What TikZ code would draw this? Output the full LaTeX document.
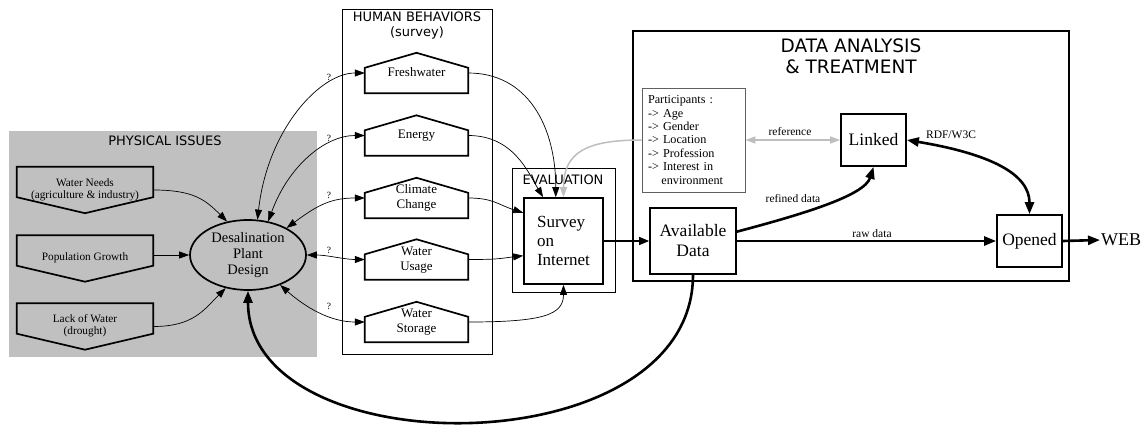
\documentclass[tikz,border=0pt]{standalone}
\usepackage{fontspec}
\setmainfont{Liberation Serif}
\newfontfamily\sansT{DejaVu Sans}
\usetikzlibrary{arrows.meta,shapes.geometric,calc}
\definecolor{clgray}{HTML}{C0C0C0}
\definecolor{egray}{HTML}{BEBEBE}
\definecolor{pgray}{HTML}{606060}
\newcommand\mytb[2]{\raisebox{#1}{\begin{tabular}{@{}c@{}}#2\end{tabular}}}
\begin{document}
\begin{tikzpicture}[x=1pt,y=-1pt,
  box/.style={draw, line width=1.7pt, rectangle, inner sep=0pt},
  shp/.style={inner sep=0pt},
  shpline/.style={line width=1.7pt, line join=miter},
  cl/.style={draw, line width=0.8pt},
  ttl/.style={font=\sansT\fontsize{13}{15}\selectfont, align=center, inner sep=0pt},
  phys/.style={shp, minimum width=136, minimum height=46, font=\fontsize{11.3}{12}\selectfont},
  hum/.style={shp, minimum width=103, minimum height=40, font=\fontsize{13}{15}\selectfont},
  elbl/.style={font=\fontsize{11.5}{13}\selectfont, inner sep=0pt},
  qlbl/.style={font=\fontsize{9.5}{11}\selectfont, inner sep=0pt},
  ethin/.style={line width=0.7pt, -{Triangle[length=10pt,width=7pt]}},
  ebi/.style={line width=0.7pt, {Triangle[length=10pt,width=7pt]}-{Triangle[length=10pt,width=7pt]}},
  emid/.style={line width=1.3pt, -{Triangle[length=10pt,width=8pt]}},
  egr/.style={line width=1.5pt, draw=egray, -{Triangle[length=10pt,width=7pt]}},
  egrbi/.style={line width=1.5pt, draw=egray, {Triangle[length=10pt,width=7pt]}-{Triangle[length=10pt,width=7pt]}},
  ethk/.style={line width=2.6pt, -{Triangle[length=12pt,width=9pt]}},
  ethkbi/.style={line width=2.6pt, {Triangle[length=12pt,width=9pt]}-{Triangle[length=12pt,width=9pt]}},
]
\useasboundingbox (0,0) rectangle (1148,431);

% clusters
\fill[clgray] (9,131) rectangle (317,357);
\node[ttl] (tpi) at (165,141) {PHYSICAL ISSUES};
\draw[cl] (342,9) rectangle (492,354);
\node[ttl] (thb) at (417,25.5) {HUMAN BEHAVIORS\\(survey)};
\draw[cl] (512,168) rectangle (615,292);
\node[ttl] (tev) at (563,180) {EVALUATION};
\draw[line width=1.3pt] (633,31) rectangle (1069,281);
\node[ttl, font=\sansT\fontsize{18.5}{21}\selectfont] (tda) at (851,56) {DATA ANALYSIS\\\& TREATMENT};

% physical issues
\node[phys] (wn) at (85,190) {\mytb{4pt}{Water Needs\\(agriculture \& industry)}};
\node[phys] (pg) at (85,258.5) {\mytb{3pt}{Population Growth}};
\node[phys] (lw) at (85,326.5) {\mytb{4pt}{Lack of Water\\(drought)}};
\foreach \n in {wn,pg,lw}{
  \draw[shpline] (\n.north west) -- (\n.north east) -- ($(\n.south east)+(0,-16)$) -- (\n.south) -- ($(\n.south west)+(0,-16)$) -- cycle;
}
\node[ellipse, draw, line width=1.7pt, fill=clgray, minimum width=116, minimum height=70, inner sep=0pt, align=center, font=\fontsize{14.5}{16}\selectfont] (ds) at (248,255) {Desalination\\Plant\\Design};

% human behaviors
\node[hum] (fw) at (416.5,73) {\mytb{-3pt}{Freshwater}};
\node[hum] (en) at (416.5,135.5) {\mytb{-2pt}{Energy}};
\node[hum] (cc) at (416.5,198) {\mytb{-1.5pt}{Climate\\Change}};
\node[hum] (wu) at (416.5,259.5) {\mytb{-2pt}{Water\\Usage}};
\node[hum] (ws) at (416.5,322) {\mytb{-1.5pt}{Water\\Storage}};
\foreach \n in {fw,en,cc,wu,ws}{
  \draw[shpline] (\n.south west) -- (\n.south east) -- ($(\n.north east)+(0,15)$) -- (\n.north) -- ($(\n.north west)+(0,15)$) -- cycle;
}

% evaluation
\node[box, minimum width=79, minimum height=86, align=left, font=\fontsize{17}{19}\selectfont] (sv) at (563.5,241) {Survey\\on\\Internet};

% data analysis
\node[draw=pgray, line width=0.8pt, text width=91pt, inner xsep=6pt, inner ysep=0pt, minimum height=104, align=left, font=\fontsize{12.2}{13.4}\selectfont] (pa) at (693.5,140) {Participants :\\-> Age\\-> Gender\\-> Location\\-> Profession\\-> Interest in\\\hspace*{1.1em}environment};
\node[box, minimum width=65, minimum height=52, font=\fontsize{17.5}{19}\selectfont] (lk) at (873.5,140) {Linked};
\node[box, minimum width=86, minimum height=66, align=center, font=\fontsize{17.5}{20}\selectfont] (ad) at (693,241) {Available\\Data};
\node[box, minimum width=65, minimum height=52, font=\fontsize{17.5}{19}\selectfont] (op) at (1029.5,241) {Opened};
\node[inner sep=1pt, anchor=west, font=\fontsize{18}{20}\selectfont] (web) at (1100,240) {WEB};

% edges: physical -> design
\draw[ethin] (wn.east) .. controls +(40,0) and +(-22,-22) .. (ds.122);
\draw[ethin] (pg.east |- ds.west) -- (ds.west);
\draw[ethin] (lw.east) .. controls +(40,0) and +(-22,22) .. (ds.236);

% design <-> human behaviors
\draw[ebi] (ds.75) .. controls +(10,-90) and +(-45,0) .. (fw.west);
\draw[ebi] (ds.59) .. controls +(20,-55) and +(-40,0) .. (en.west);
\draw[ebi] (ds.35) .. controls +(30,-22) and +(-35,0) .. (cc.west);
\draw[ebi] (ds.east) .. controls +(20,0) and +(-20,0) .. (wu.west);
\draw[ebi] (ds.317) .. controls +(25,22) and +(-35,0) .. (ws.west);
\node[qlbl] (q1) at (329,77) {?};
\node[qlbl] (q2) at (329,138) {?};
\node[qlbl] (q3) at (329,195) {?};
\node[qlbl] (q4) at (329,250) {?};
\node[qlbl] (q5) at (329,306) {?};

% human behaviors -> survey
\draw[ethin] (fw.east) .. controls +(60,0) and +(0,-70) .. (sv.100);
\draw[ethin] (en.east) .. controls +(45,0) and +(-15,-25) .. (sv.115);
\draw[ethin] (cc.east) .. controls +(25,0) and +(-25,-8) .. (sv.145);
\draw[ethin] (wu.east) .. controls +(30,0) and +(-25,3) .. (sv.200);
\draw[ethin] (ws.east) .. controls +(75,0) and +(0,30) .. (sv.south);

% participants
\draw[egr] (pa.west) .. controls +(-55,0) and +(0,-45) .. (sv.north);
\draw[egrbi] (pa.east) -- (lk.west);
\node[elbl] (lref) at (790,132) {reference};

% data flow
\draw[emid] (sv.east) -- (ad.west);
\draw[ethk] (ad.12) .. controls +(64,-17) and +(-9,29) .. (lk.south);
\node[elbl] (lrefd) at (793,199) {refined data};
\draw[ethk] (ad.east) -- (op.west);
\node[elbl] (lraw) at (872,234) {raw data};
\draw[ethkbi] (lk.east) .. controls +(84,14) and +(0,-40) .. (op.north);
\node[elbl] (lrdf) at (951,135) {RDF/W3C};
\draw[ethk] (op.east) -- (web.west);
\draw[ethk] (ad.south) .. controls +(0,193) and +(0,177) .. (ds.south);
\end{tikzpicture}
\end{document}
